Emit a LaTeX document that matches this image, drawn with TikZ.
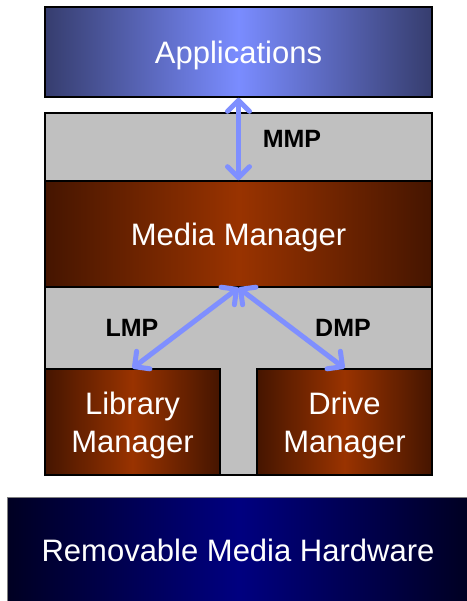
\documentclass[tikz,border=0pt]{standalone}
\usepackage{fontspec}
\setmainfont{Liberation Sans}
\usetikzlibrary{arrows.meta}
\definecolor{appedge}{HTML}{363D6E}
\definecolor{appmid}{HTML}{7A8CFF}
\definecolor{mgredge}{HTML}{451500}
\definecolor{mgrmid}{HTML}{993300}
\definecolor{hwedge}{HTML}{000022}
\definecolor{hwmid}{HTML}{000080}
\definecolor{panel}{HTML}{C0C0C0}
\definecolor{link}{HTML}{7F8FFF}
\tikzset{
  layer/.style={draw=black, line width=1.6pt, inner sep=0pt, align=center,
    text=white, text depth=0pt, font=\fontsize{31}{38}\selectfont},
  appbox/.style={layer, left color=appedge, right color=appedge, middle color=appmid},
  mgrbox/.style={layer, left color=mgredge, right color=mgredge, middle color=mgrmid},
  hwbox/.style={layer, draw=gray, line width=1pt, left color=hwedge, right color=hwedge, middle color=hwmid},
  proto/.style={font=\bfseries\fontsize{25}{30}\selectfont, text=black},
  protolink/.style={draw=link, line width=5pt, line cap=round,
    {Straight Barb[length=11pt, width=22pt, line width=5pt, round]}-{Straight Barb[length=11pt, width=22pt, line width=5pt, round]}},
}
\begin{document}
\begin{tikzpicture}[x=1pt, y=-1pt]
\useasboundingbox (0,0) rectangle (466,601);
% grey protocol panel behind the manager layers
\node[draw=black, line width=1.6pt, fill=panel, minimum width=387pt, minimum height=362pt, inner sep=0pt] (panel) at (238.5,294) {};
% layers
\node[appbox, minimum width=387pt, minimum height=90pt] (apps) at (238.5,52) {Applications};
\node[mgrbox, minimum width=387pt, minimum height=106pt] (mm) at (238.5,234) {Media Manager};
\node[mgrbox, minimum width=175pt, minimum height=106pt] (lib) at (132.5,422) {Library\\Manager};
\node[mgrbox, minimum width=175pt, minimum height=106pt] (drv) at (344.5,422) {Drive\\Manager};
\node[hwbox, minimum width=462pt, minimum height=106pt] (hw) at (238,550) {Removable Media Hardware};
% protocol connectors
\draw[protolink] (apps.south) -- (mm.north);
\draw[protolink] (mm.south) -- (lib.north);
\draw[protolink] (mm.south) -- (drv.north);
% protocol labels
\node[proto] (mmp) at (292,139) {MMP};
\node[proto] (lmp) at (132,328) {LMP};
\node[proto] (dmp) at (343,328) {DMP};
\end{tikzpicture}
\end{document}
